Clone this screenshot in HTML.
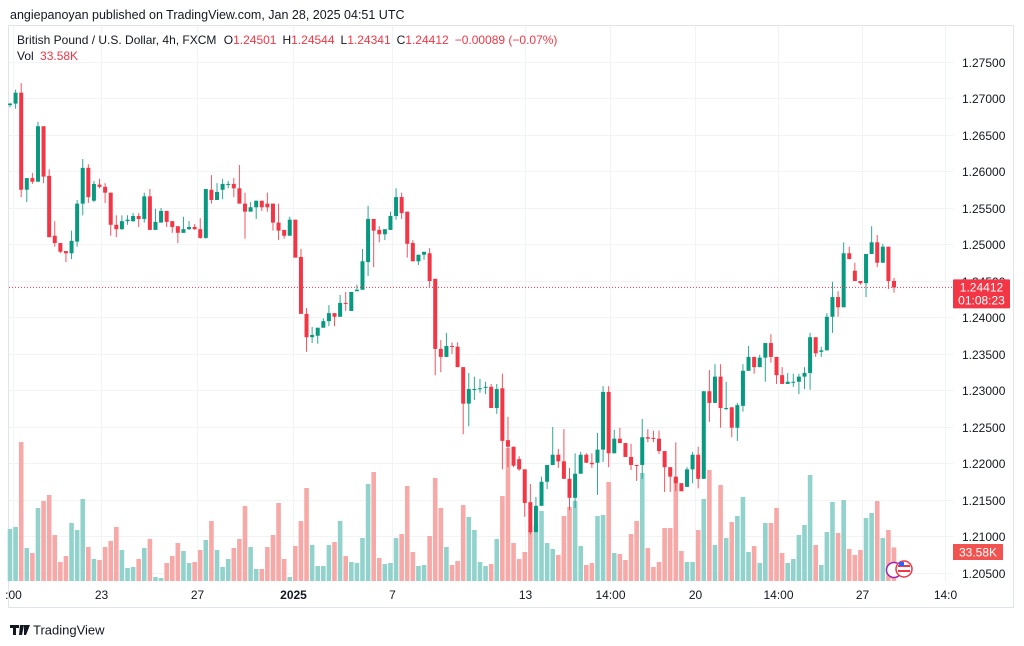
<!DOCTYPE html>
<html><head><meta charset="utf-8"><style>
html,body{margin:0;padding:0;background:#fff;}
body{width:1024px;height:641px;overflow:hidden;font-family:"Liberation Sans",sans-serif;}
svg text{font-family:"Liberation Sans",sans-serif;}
</style></head><body>
<svg id="chart" width="1024" height="641" viewBox="0 0 1024 641" xmlns="http://www.w3.org/2000/svg">
<text x="10" y="19" font-size="12.5" fill="#131722">angiepanoyan published on TradingView.com, Jan 28, 2025 04:51 UTC</text>
<rect x="8.5" y="25.5" width="1005" height="582" fill="none" stroke="#e0e3eb"/>
<g id="grid"></g>
<g id="vol"></g>
<g id="candles"></g>
<g id="axes"></g>
<g>
<text x="17" y="44" font-size="12" fill="#131722">British Pound / U.S. Dollar, 4h, FXCM <tspan dx="4">O</tspan><tspan fill="#f23645">1.24501</tspan><tspan dx="6">H</tspan><tspan fill="#f23645">1.24544</tspan><tspan dx="6">L</tspan><tspan fill="#f23645">1.24341</tspan><tspan dx="6">C</tspan><tspan fill="#f23645">1.24412</tspan><tspan dx="6" fill="#f23645">−0.00089 (−0.07%)</tspan></text>
<text x="17" y="60" font-size="12" fill="#131722">Vol <tspan dx="3" fill="#f23645">33.58K</tspan></text>
</g>
<g>
<circle cx="894" cy="570" r="7.5" fill="#fff" stroke="#9c27b0" stroke-width="1.5"/>
<circle cx="904" cy="569" r="8" fill="#fff" stroke="#f23645" stroke-width="1.5"/>
<rect x="898" y="565" width="12" height="2" fill="#f23645"/>
<rect x="898" y="570" width="12" height="2" fill="#f23645"/>
<rect x="899" y="562" width="5" height="4" fill="#2962ff"/>
</g>
<g>
<path d="M10 625h9v3h-3v7h-3v-7h-3z M20 625h4l-2 10h-3z M24 625h6l-4 10h-2z" fill="#131722"/>
<text x="33" y="634.5" font-size="13" fill="#131722">TradingView</text>
</g>
</svg>
<script>
const opens=[1.2691,1.2693,1.2708,1.2575,1.2591,1.2586,1.2662,1.2594,1.2512,1.2502,1.2491,1.2488,1.2504,1.2556,1.2605,1.2560,1.2582,1.2579,1.2571,1.2527,1.2521,1.2532,1.2532,1.2539,1.2535,1.2566,1.2520,1.2530,1.2546,1.2532,1.2525,1.2516,1.2521,1.2524,1.2521,1.2509,1.2575,1.2561,1.2575,1.2582,1.2583,1.2577,1.2556,1.2545,1.2551,1.2560,1.2556,1.2556,1.2530,1.2520,1.2512,1.2534,1.2483,1.2405,1.2373,1.2375,1.2386,1.2395,1.2406,1.2401,1.2420,1.2409,1.2436,1.2438,1.2476,1.2535,1.2520,1.2514,1.2520,1.2539,1.2565,1.2545,1.2502,1.2477,1.2486,1.2488,1.2453,1.2357,1.2346,1.2361,1.2360,1.2332,1.2282,1.2301,1.2302,1.2304,1.2305,1.2276,1.2303,1.2232,1.2223,1.2206,1.2192,1.2147,1.2106,1.2142,1.2175,1.2198,1.2212,1.2203,1.2179,1.2153,1.2186,1.2212,1.2201,1.2201,1.2219,1.2298,1.2214,1.2234,1.2228,1.2209,1.2198,1.2198,1.2236,1.2235,1.2234,1.2217,1.2195,1.2182,1.2173,1.2168,1.2192,1.2212,1.2179,1.2299,1.2283,1.2319,1.2275,1.2277,1.2249,1.2279,1.2327,1.2346,1.2332,1.2345,1.2365,1.2346,1.2321,1.2309,1.2311,1.2312,1.2319,1.2324,1.2373,1.2353,1.2355,1.2401,1.2428,1.2414,1.2488,1.2464,1.2450,1.2447,1.2487,1.2503,1.2475,1.2497,1.24501];
const highs=[1.2694,1.2712,1.2721,1.2591,1.2598,1.2668,1.2662,1.2603,1.2532,1.2502,1.2491,1.2519,1.2561,1.2617,1.2610,1.2587,1.2590,1.2584,1.2571,1.2540,1.2540,1.2540,1.2543,1.2543,1.2571,1.2576,1.2549,1.2550,1.2546,1.2532,1.2525,1.2538,1.2532,1.2528,1.2536,1.2576,1.2595,1.2584,1.2590,1.2587,1.2591,1.2609,1.2571,1.2558,1.2560,1.2560,1.2571,1.2556,1.2556,1.2520,1.2538,1.2534,1.2494,1.2413,1.2387,1.2386,1.2399,1.2417,1.2406,1.2431,1.2435,1.2435,1.2445,1.2494,1.2553,1.2535,1.2525,1.2521,1.2545,1.2577,1.2571,1.2545,1.2506,1.2486,1.2490,1.2495,1.2453,1.2369,1.2379,1.2366,1.2366,1.2332,1.2324,1.2319,1.2316,1.2312,1.2309,1.2309,1.2323,1.2264,1.2223,1.2210,1.2192,1.2172,1.2154,1.2182,1.2198,1.2250,1.2220,1.2247,1.2194,1.2214,1.2216,1.2214,1.2214,1.2242,1.2306,1.2306,1.2246,1.2249,1.2228,1.2227,1.2198,1.2261,1.2247,1.2245,1.2245,1.2217,1.2195,1.2229,1.2173,1.2195,1.2216,1.2223,1.2299,1.2328,1.2336,1.2336,1.2312,1.2277,1.2283,1.2336,1.2361,1.2346,1.2349,1.2365,1.2377,1.2346,1.2332,1.2324,1.2323,1.2323,1.2332,1.2379,1.2373,1.2360,1.2406,1.2449,1.2436,1.2503,1.2497,1.2475,1.2450,1.2487,1.2525,1.2513,1.2501,1.2497,1.24544];
const lows=[1.2688,1.2686,1.2565,1.2558,1.2583,1.2586,1.2584,1.2510,1.2497,1.2488,1.2476,1.2480,1.2497,1.2540,1.2557,1.2558,1.2577,1.2557,1.2512,1.2510,1.2520,1.2527,1.2531,1.2524,1.2530,1.2520,1.2520,1.2530,1.2524,1.2516,1.2502,1.2516,1.2520,1.2520,1.2508,1.2508,1.2556,1.2561,1.2562,1.2577,1.2565,1.2556,1.2508,1.2545,1.2535,1.2546,1.2545,1.2519,1.2506,1.2508,1.2512,1.2482,1.2405,1.2353,1.2365,1.2364,1.2386,1.2388,1.2388,1.2401,1.2409,1.2409,1.2436,1.2438,1.2457,1.2469,1.2503,1.2506,1.2520,1.2534,1.2535,1.2482,1.2477,1.2472,1.2479,1.2442,1.2321,1.2325,1.2346,1.2350,1.2332,1.2240,1.2251,1.2287,1.2297,1.2295,1.2276,1.2268,1.2192,1.2195,1.2195,1.2190,1.2127,1.2103,1.2106,1.2142,1.2165,1.2198,1.2194,1.2179,1.2136,1.2139,1.2186,1.2201,1.2194,1.2157,1.2202,1.2195,1.2214,1.2228,1.2209,1.2191,1.2176,1.2179,1.2229,1.2229,1.2213,1.2161,1.2161,1.2162,1.2162,1.2168,1.2173,1.2166,1.2179,1.2257,1.2283,1.2249,1.2273,1.2236,1.2231,1.2271,1.2327,1.2323,1.2332,1.2312,1.2338,1.2309,1.2309,1.2309,1.2305,1.2295,1.2302,1.2301,1.2346,1.2346,1.2355,1.2379,1.2401,1.2414,1.2480,1.2450,1.2445,1.2428,1.2487,1.2469,1.2475,1.2439,1.24341];
const closes=[1.2693,1.2708,1.2575,1.2591,1.2586,1.2662,1.2593,1.2510,1.2502,1.2490,1.2488,1.2505,1.2556,1.2605,1.2565,1.2583,1.2579,1.2571,1.2527,1.2521,1.2532,1.2534,1.2539,1.2535,1.2566,1.2520,1.2531,1.2546,1.2531,1.2524,1.2516,1.2521,1.2524,1.2521,1.2509,1.2576,1.2561,1.2572,1.2583,1.2583,1.2577,1.2556,1.2545,1.2551,1.2560,1.2551,1.2551,1.2530,1.2519,1.2512,1.2534,1.2482,1.2405,1.2373,1.2376,1.2386,1.2395,1.2406,1.2401,1.2420,1.2419,1.2435,1.2438,1.2477,1.2535,1.2519,1.2514,1.2521,1.2539,1.2565,1.2543,1.2501,1.2477,1.2486,1.2490,1.2450,1.2357,1.2346,1.2361,1.2360,1.2332,1.2282,1.2302,1.2302,1.2303,1.2305,1.2276,1.2302,1.2231,1.2223,1.2197,1.2192,1.2146,1.2106,1.2142,1.2175,1.2198,1.2212,1.2203,1.2179,1.2153,1.2186,1.2212,1.2201,1.2199,1.2219,1.2298,1.2214,1.2234,1.2228,1.2209,1.2198,1.2197,1.2236,1.2234,1.2234,1.2217,1.2195,1.2182,1.2173,1.2162,1.2192,1.2212,1.2179,1.2299,1.2283,1.2319,1.2276,1.2276,1.2249,1.2280,1.2327,1.2346,1.2332,1.2345,1.2365,1.2346,1.2321,1.2309,1.2312,1.2312,1.2319,1.2324,1.2373,1.2351,1.2355,1.2401,1.2428,1.2414,1.2488,1.2480,1.2450,1.2447,1.2487,1.2503,1.2475,1.2497,1.2450,1.24412];
const volumes=[52,54,139,33,28,73,80,86,46,19,25,58,51,82,34,22,21,34,40,54,31,13,14,22,33,42,4,3,18,25,38,30,18,19,31,41,60,31,14,22,33,42,75,34,12,12,34,46,78,22,4,35,60,93,36,15,15,36,39,60,25,19,18,43,97,109,23,17,18,43,47,95,29,15,16,45,103,73,34,16,20,76,64,51,19,15,17,42,85,133,38,22,29,50,56,70,38,32,26,65,74,80,35,16,18,65,66,99,28,27,21,47,60,108,33,14,19,53,53,103,30,19,19,51,82,111,36,96,43,59,65,84,29,35,18,58,58,73,28,18,22,46,56,106,36,16,49,79,48,81,32,26,31,63,68,80,43,51,33.58];
const priceTicks=[1.275,1.27,1.265,1.26,1.255,1.25,1.245,1.24,1.235,1.23,1.225,1.22,1.215,1.21,1.205];
const timeLabels=[":00","23","27","2025","7","13","14:00","20","14:00","27","14:0"];
const timeLabelIdx=[0.6,16.2,33.4,50.5,68.2,92.1,107.2,122.4,137.2,152.3,167.1];
const lastPrice=1.24412;

const NS="http://www.w3.org/2000/svg";
const PL=9,PR=953,PB=607;
const yP=p=>62+(1.275-p)*7300;
const xI=i=>10+i*5.595;
const vY=v=>581-v*1.0;
function mk(tag,attrs,parent){const e=document.createElementNS(NS,tag);for(const k in attrs)e.setAttribute(k,attrs[k]);parent.appendChild(e);return e;}
const grid=document.getElementById('grid'),axes=document.getElementById('axes'),vol=document.getElementById('vol'),cg=document.getElementById('candles');

priceTicks.forEach(p=>{
  const y=Math.round(yP(p))+0.5;
  const l=mk('line',{x1:PL,x2:PR,y1:y,y2:y,stroke:'#f2f3f6','stroke-width':1},grid);
  
  
  const t=mk('text',{x:962,y:y+4.5,'font-size':12,fill:'#131722'},axes);
  t.textContent=p.toFixed(5);
  
  
});
timeLabels.forEach((s,k)=>{
  const x=Math.round(xI(timeLabelIdx[k]))+0.5;
  const l=mk('line',{x1:x,x2:x,y1:26,y2:582,stroke:'#f2f3f6','stroke-width':1},grid);
  
  
  const t=mk('text',{x:x,y:599,'font-size':12,fill:'#131722','text-anchor':'middle','font-weight':s==='2025'?'bold':'normal'},axes);
  t.textContent=s;
  
  
});

volumes.forEach((v,i)=>{
  const up=closes[i]>=opens[i];
  const y=vY(v);
  const r=mk('rect',{x:xI(i)-2.3,y:y,width:4.6,height:581-y,fill:up?'#92d2cc':'#f7a9a7'},vol);
  
  
});

opens.forEach((o,i)=>{
  const c=closes[i],up=c>=o,col=up?'#089981':'#f23645';
  const x=xI(i);
  const w=mk('line',{x1:x,x2:x,y1:yP(highs[i]),y2:yP(lows[i]),stroke:col,'stroke-width':1,opacity:0.85},cg);
  
  
  const top=yP(Math.max(o,c)),bot=yP(Math.min(o,c));
  const b=mk('rect',{x:x-2,y:top,width:4,height:Math.max(1,bot-top),fill:col},cg);
  
  
});

const ly=yP(lastPrice);
const pl=mk('line',{x1:PL,x2:PR,y1:ly,y2:ly,stroke:'#f23645','stroke-width':1,'stroke-dasharray':'1 2'},axes);


const pb=mk('rect',{x:953,y:ly-8,width:57,height:29,fill:'#f23645',rx:1},axes);


const pt=mk('text',{x:981.5,y:ly+4,'font-size':12,fill:'#fff','text-anchor':'middle'},axes);
pt.textContent=lastPrice.toFixed(5);


const ct=mk('text',{x:981.5,y:ly+17,'font-size':12,fill:'#fff','text-anchor':'middle'},axes);
ct.textContent='01:08:23';


const vb=mk('rect',{x:953,y:544,width:50,height:16,fill:'#f05350'},axes);


const vt=mk('text',{x:978,y:556.5,'font-size':12,fill:'#fff','text-anchor':'middle'},axes);
vt.textContent=volumes[volumes.length-1].toFixed(2)+'K';


</script>
</body></html>
